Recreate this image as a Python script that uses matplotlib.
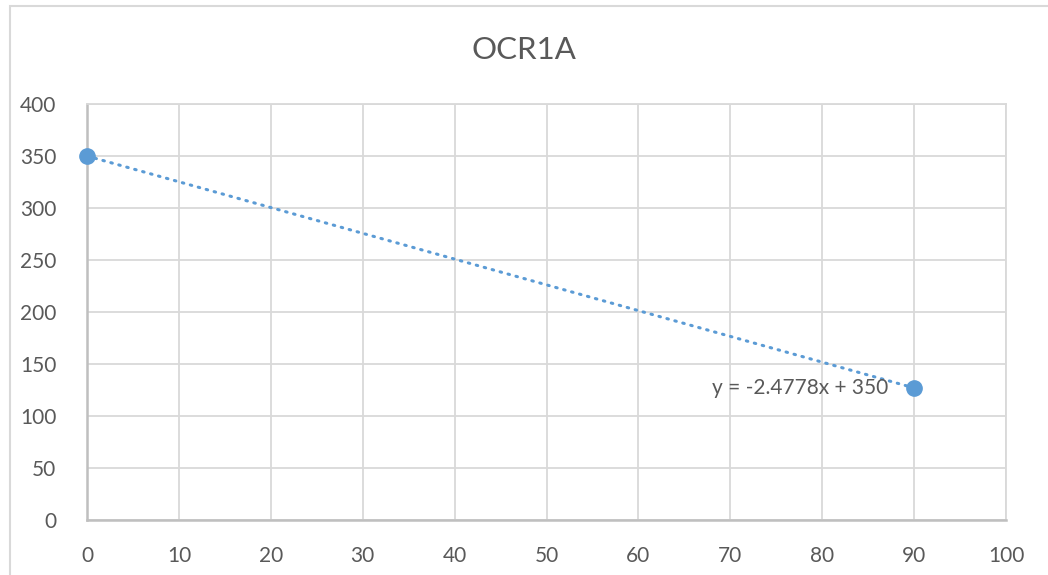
import numpy as np
import matplotlib
matplotlib.use("Agg")
from matplotlib import pyplot as plt
from matplotlib.patches import Rectangle

# data
x_vals = [0, 90]
y_vals = [350, 127]
slope = -2.4778
intercept = 350
title = "OCR1A"
x_ticks = list(range(0, 101, 10))
y_ticks = list(range(0, 401, 50))

plt.rcParams['font.family'] = ['Lato', 'DejaVu Sans']

blue = "#5B9BD5"
text_grey = "#595959"

fig = plt.figure(figsize=(10.48, 5.75), dpi=100)
fig.patch.set_facecolor("white")

# chart area border like the Excel chart frame
fig.patches.append(Rectangle((10 / 1048, -0.1), 1.2, 1.1 - 6 / 575,
                             transform=fig.transFigure, fill=False,
                             edgecolor="#D9D9D9", linewidth=1.5))

ax = fig.add_axes([87 / 1048, 55 / 575, (1006 - 87) / 1048, (520 - 104) / 575])
ax.set_xlim(0, 100)
ax.set_ylim(0, 400)
ax.set_xticks(x_ticks)
ax.set_yticks(y_ticks)
ax.grid(True, color="#D9D9D9", linewidth=1.3)
ax.set_axisbelow(True)

for side in ["top", "right"]:
    ax.spines[side].set_color("#D9D9D9")
    ax.spines[side].set_linewidth(1.3)
for side in ["left", "bottom"]:
    ax.spines[side].set_color("#BFBFBF")
    ax.spines[side].set_linewidth(1.8)

ax.tick_params(length=0, labelsize=15, labelcolor=text_grey)
ax.tick_params(axis="x", pad=19)
ax.tick_params(axis="y", pad=22)

# linear trendline
xt = np.array([min(x_vals), max(x_vals)])
ax.plot(xt, slope * xt + intercept, color=blue, linewidth=2.2,
        linestyle=(0, (0.5, 2.2)), dash_capstyle="round", zorder=3)

ax.plot(x_vals, y_vals, 'o', color=blue, markersize=11, zorder=4, clip_on=False)

ax.text(77.6, y_vals[1], "y = -2.4778x + 350", fontsize=15, color=text_grey,
        ha="center", va="center", zorder=5)

fig.text(0.5, 1 - 50 / 575, title, ha="center", va="center",
         fontsize=22.5, color=text_grey)

plt.savefig("out.png", dpi=100)
